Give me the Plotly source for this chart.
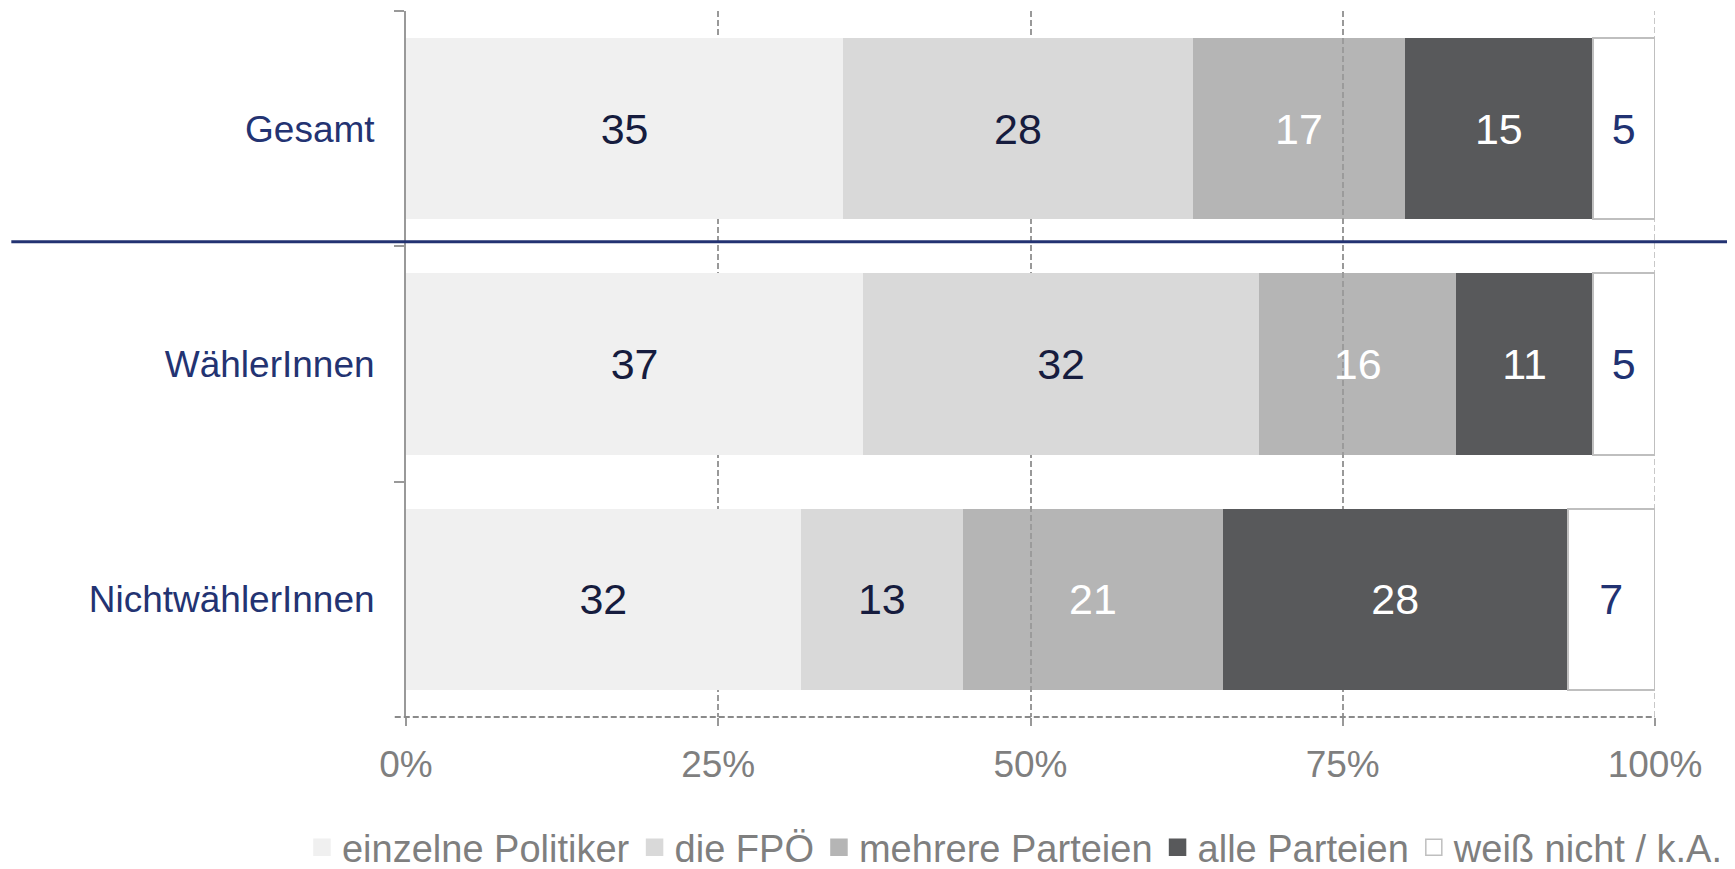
import plotly.graph_objects as go

categories = ["Gesamt", "WählerInnen", "NichtwählerInnen"]
series_names = ["einzelne Politiker", "die FPÖ", "mehrere Parteien", "alle Parteien", "weiß nicht / k.A."]
einzelne = [35.0, 36.6, 31.6]
fpoe = [28.0, 31.7, 13.0]
mehrere = [17.0, 15.8, 20.8]
alle = [15.0, 10.9, 27.6]
weiss = [5.0, 5.0, 7.0]
x_ticks = [0, 25, 50, 75, 100]
x_tick_labels = ["0%", "25%", "50%", "75%", "100%"]

series_values = [einzelne, fpoe, mehrere, alle, weiss]
fill_colors = ["#f0f0f0", "#d9d9d9", "rgba(156,156,156,0.75)", "#58595b", "#ffffff"]
legend_colors = ["#f0f0f0", "#d9d9d9", "#b5b5b5", "#58595b", "#ffffff"]
legend_lines = ["#f0f0f0", "#d9d9d9", "#b5b5b5", "#58595b", "#bfbfbf"]
line_colors = ["#f0f0f0", "#d9d9d9", "rgba(0,0,0,0)", "#58595b", "#bfbfbf"]
line_widths = [0, 0, 0, 0, 2]
text_colors = ["#161c3e", "#161c3e", "#ffffff", "#ffffff", "#213272"]

FONT = "Liberation Sans, Arial, sans-serif"
NAVY = "#233372"
GRAY = "#7f7f7f"

fig = go.Figure()
for name, vals, fc, lc, lw, tc in zip(series_names, series_values, fill_colors, line_colors, line_widths, text_colors):
    fig.add_trace(go.Bar(
        y=categories, x=vals, name=name, orientation="h", showlegend=False,
        marker=dict(color=fc, line=dict(color=lc, width=lw)),
        texttemplate="%{x:.0f}", textposition="inside", insidetextanchor="middle",
        textangle=0, constraintext="none",
        textfont=dict(family=FONT, size=43, color=tc),
        hoverinfo="skip",
    ))

# legend entries with larger square swatches
for name, col, lc in zip(series_names, legend_colors, legend_lines):
    fig.add_trace(go.Scatter(
        x=[None], y=[None], mode="markers", name=name, showlegend=True,
        marker=dict(symbol="square", size=16, color=col, line=dict(color=lc, width=1.5)),
        hoverinfo="skip",
    ))

# light dashed gridline at 100 %
fig.add_shape(type="line", xref="x", yref="paper", x0=100, x1=100, y0=0, y1=1,
              line=dict(color="#c8c8c8", width=2, dash="6px,3px"), layer="below")
# separator between Gesamt and the sub-groups
fig.add_shape(type="line", xref="paper", yref="y", x0=-0.316, x1=1.059, y0=0.48, y1=0.48,
              line=dict(color=NAVY, width=3), layer="above")
# dashed x-axis baseline
fig.add_shape(type="line", xref="paper", yref="paper", x0=-0.009, x1=1.0, y0=0, y1=0,
              line=dict(color="#8a8a8a", width=2, dash="6px,3px"), layer="above")

fig.update_layout(
    width=1727, height=861,
    barmode="stack", bargap=0.23,
    plot_bgcolor="white", paper_bgcolor="white",
    margin=dict(l=398, r=80, t=3, b=152, autoexpand=False),
    font=dict(family=FONT, color=GRAY),
    legend=dict(orientation="h", xanchor="left", x=-0.0833, yanchor="middle", y=-0.185,
                font=dict(family=FONT, size=38, color=GRAY), traceorder="normal",
                itemwidth=30, tracegroupgap=0, itemsizing="trace",
                bgcolor="rgba(0,0,0,0)"),
    xaxis=dict(range=[0, 100], tickvals=x_ticks, ticktext=x_tick_labels,
               showgrid=True, gridcolor="#999999", gridwidth=2, griddash="6px,3px",
               zeroline=False, showline=False, ticks="outside", ticklen=8, tickwidth=2,
               tickcolor="#999999", ticklabelstandoff=7,
               tickfont=dict(family=FONT, size=37, color=GRAY)),
    yaxis=dict(categoryorder="array", categoryarray=categories, autorange="reversed",
               showline=True, linecolor="#999999", linewidth=2, showgrid=False, zeroline=False,
               ticks="outside", tickson="boundaries", ticklen=10, tickwidth=2, tickcolor="#999999",
               ticklabelstandoff=22,
               tickfont=dict(family=FONT, size=37, color=NAVY)),
)

fig.write_html("out.html")
